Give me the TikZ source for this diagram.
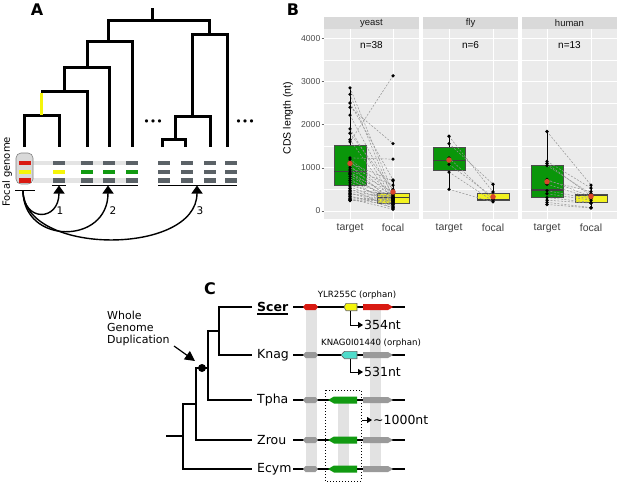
\documentclass[tikz,border=0pt]{standalone}
\usepackage{fontspec}
\setmainfont{DejaVu Sans}
\newfontfamily\ggfont{Liberation Sans}
\usetikzlibrary{arrows.meta}

\definecolor{geneA}{HTML}{5B6267}
\definecolor{greenA}{HTML}{119A11}
\definecolor{yellowA}{HTML}{F5F50A}
\definecolor{redA}{HTML}{D91A12}
\definecolor{rowA}{HTML}{E4E4E4}
\definecolor{panelB}{HTML}{EBEBEB}
\definecolor{stripB}{HTML}{D9D9D9}
\definecolor{greenB}{HTML}{0A960A}
\definecolor{yellowB}{HTML}{F2F220}
\definecolor{meanB}{HTML}{D8452A}
\definecolor{grayC}{HTML}{9A9A9A}
\definecolor{bandC}{HTML}{E2E2E2}
\definecolor{cyanC}{HTML}{4FDCCB}

\newcommand{\fs}[1]{\fontsize{#1}{#1}\selectfont}

\tikzset{
  treeA/.style={line width=3pt},
  arrA/.style={line width=1.4pt, -{Triangle[width=11pt,length=8pt]}},
  majorB/.style={white, line width=0.9pt},
  minorB/.style={white, line width=0.4pt},
  pairB/.style={gray!85, line width=0.5pt, dash pattern=on 2pt off 1.5pt},
  ptB/.style={circle, fill=black, inner sep=0pt, minimum size=3.6pt},
  meanpt/.style={circle, fill=meanB, inner sep=0pt, minimum size=5.5pt},
  tickB/.style={font=\ggfont\fs{8.6}, text=black!70, inner sep=1pt},
  treeC/.style={line width=2pt},
  chromC/.style={line width=1.3pt},
  elbowC/.style={line width=1pt, -{Triangle[width=6pt,length=5pt]}},
  spC/.style={font=\fs{12.5}, anchor=west, inner sep=0pt},
}

% box, whiskers and median of one boxplot
\newcommand{\bplot}[7]{%
  \draw[line width=0.8pt] (#1,#2) -- (#1,#6);
  \filldraw[fill=#7, draw=black!70, line width=0.6pt] ({#1-16},#3) rectangle ({#1+16},#5);
  \draw[line width=1.6pt, black!75] ({#1-16},#4) -- ({#1+16},#4);
}

\newcommand{\yeastpairs}{2850/420,2700/300,2500/720,2400/1560,2220/350,1900/280,1800/500,1650/250,1600/3130,1230/1200,1200/400,1150/320,1100/700,1050/200,1000/600,950/450,900/300,870/150,850/380,800/260,750/100,700/330,650/220,600/280,560/180,520/60,480/400,450/310,420/120,400/240,380/350,350/80,330/190,300/270,280/40,260/230,250/160,240/300}
\newcommand{\flypairs}{1730/440,1560/620,1230/260,1080/330,900/230,500/210}
\newcommand{\humanpairs}{1840/600,1150/530,1100/350,1050/400,730/330,700/450,620/300,470/280,400/250,310/200,250/180,200/80,150/70}

\begin{document}
\begin{tikzpicture}[x=1pt,y=-1pt]
\useasboundingbox (0,0) rectangle (617,482);

% ---------- A ----------
\node[font=\bfseries\fs{16}] (labA) at (37,10) {A};
\draw[treeA] (152,8) -- (152,20);
\draw[treeA] (108,41) -- (108,20) -- (209,20) -- (209,34);
\draw[treeA] (87,67) -- (87,41) -- (132,41) -- (132,147);
\draw[treeA] (64,91) -- (64,67) -- (109,67) -- (109,147);
\draw[treeA] (41,91) -- (87,91) -- (87,147);
\draw[treeA] (24,147) -- (24,115) -- (59,115) -- (59,147);
\draw[treeA, yellowA] (41,92.5) -- (41,115);
\draw[treeA] (192,116) -- (192,34) -- (227,34) -- (227,147);
\draw[treeA] (175,139) -- (175,116) -- (210,116) -- (210,147);
\draw[treeA] (162,147) -- (162,139) -- (185,139) -- (185,147);
\node[font=\fs{11}] (dotsL) at (153,123) {•••};
\node[font=\fs{11}] (dotsR) at (245,123) {•••};

\fill[rowA] (33,160.7) rectangle (138,165);
\fill[rowA] (33,178.3) rectangle (138,182.7);
\filldraw[fill=black!15, draw=black!50, line width=0.6pt, rounded corners=5pt] (16,153) rectangle (33,184);
\fill[redA] (18.5,160.7) rectangle (30.5,165);
\fill[yellowA] (18.5,170) rectangle (30.5,174.3);
\fill[redA] (18.5,178.3) rectangle (30.5,182.7);
\foreach \x/\c in {59/yellowA,87/greenA,109/greenA,132/greenA,164/geneA,187/geneA,210/geneA,231/geneA} {
  \fill[geneA] ({\x-6},160.7) rectangle ({\x+6},165);
  \fill[\c] ({\x-6},170) rectangle ({\x+6},174.3);
  \fill[geneA] ({\x-6},178.3) rectangle ({\x+6},182.7);
}
\draw[line width=1pt] (15,190) -- (35,190);
\draw[line width=1pt] (52,185) -- (66,185);
\draw[line width=1pt] (80,185) -- (138,185);
\draw[line width=1pt] (158,185) -- (237,185);
\node[font=\fs{10}, rotate=90] (focalLab) at (7,172) {Focal genome};

\coordinate (focal) at (23,190.5);
\coordinate (hit1) at (59,185.5);
\coordinate (hit2) at (108,185.5);
\coordinate (hit3) at (197,185.5);
\draw[arrA] (focal) .. controls (23,222) and (59,222) .. (hit1);
\draw[arrA] (focal) .. controls (23,245) and (108,245) .. (hit2);
\draw[arrA] (focal) .. controls (23,256) and (197,256) .. (hit3);
\node[font=\fs{10.5}] (n1) at (60,211) {1};
\node[font=\fs{10.5}] (n2) at (113,211) {2};
\node[font=\fs{10.5}] (n3) at (200,211) {3};

% ---------- B ----------
\node[font=\bfseries\fs{16}] (labB) at (293,10) {B};
\foreach \px/\name in {324/yeast,423/fly,522/human} {
  \fill[stripB] (\px,17) rectangle ({\px+95},29);
  \fill[panelB] (\px,29) rectangle ({\px+95},219);
  \node[font=\ggfont\fs{9.5}, text=black!90] at ({\px+47.5},23) {\name};
}
\node[font=\ggfont\fs{10.5}, rotate=90] (ylab) at (288,118) {CDS length (nt)};
\foreach \cx/\name in {350/target,393/focal,449/target,493/focal,547/target,591/focal}
  \node[font=\ggfont\fs{10.5}, text=black!75] at (\cx,228) {\name};

\begin{scope}[shift={(0,211)}, yscale=-0.0432]
  \foreach \px in {324,423,522} {
    \foreach \v in {500,1500,2500,3500} \draw[minorB] (\px,\v) -- ({\px+95},\v);
    \foreach \v in {0,1000,2000,3000,4000} \draw[majorB] (\px,\v) -- ({\px+95},\v);
  }
  \foreach \cx in {350,393,449,493,547,591} \draw[majorB] (\cx,-185) -- (\cx,4213);
  \foreach \v in {0,1000,2000,3000,4000} {
    \draw[black!60, line width=0.6pt] (321.5,\v) -- (324,\v);
    \node[tickB, anchor=east] at (321.5,\v) {\v};
  }
  \node[font=\ggfont\fs{10}] (nyeast) at (371.5,3850) {n=38};
  \node[font=\ggfont\fs{10}] (nfly) at (470.5,3850) {n=6};
  \node[font=\ggfont\fs{10}] (nhuman) at (569.5,3850) {n=13};

  \bplot{350}{240}{600}{910}{1530}{2850}{greenB}
  \bplot{393}{40}{180}{310}{410}{720}{yellowB}
  \bplot{449}{500}{950}{1170}{1480}{1730}{greenB}
  \bplot{493}{210}{250}{265}{400}{620}{yellowB}
  \bplot{547}{150}{310}{490}{1050}{1840}{greenB}
  \bplot{591}{70}{200}{355}{380}{600}{yellowB}

  \foreach \t/\f in \yeastpairs \draw[pairB] (350,\t) -- (393,\f);
  \foreach \t/\f in \flypairs \draw[pairB] (449,\t) -- (493,\f);
  \foreach \t/\f in \humanpairs \draw[pairB] (547,\t) -- (591,\f);
  \foreach \t/\f in \yeastpairs {\node[ptB] at (350,\t) {}; \node[ptB] at (393,\f) {};}
  \foreach \t/\f in \flypairs {\node[ptB] at (449,\t) {}; \node[ptB] at (493,\f) {};}
  \foreach \t/\f in \humanpairs {\node[ptB] at (547,\t) {}; \node[ptB] at (591,\f) {};}

  \foreach \cx/\m in {350/1100,393/440,449/1180,493/330,547/680,591/340}
    \node[meanpt] at (\cx,\m) {};
\end{scope}

% ---------- C ----------
\node[font=\bfseries\fs{16}] (labC) at (210,289) {C};
\draw[treeC] (252,307) -- (219,307) -- (219,355) -- (252,355);
\draw[treeC] (219,331) -- (208,331) -- (208,400) -- (252,400);
\draw[treeC] (208,368) -- (196,368) -- (196,440) -- (252,440);
\draw[treeC] (196,404) -- (183,404) -- (183,469) -- (252,469);
\draw[treeC] (183,436) -- (166,436);
\fill (202,368) circle (4);

\node[font=\fs{11}, align=left, anchor=west, inner sep=0pt] (wgd) at (107,328)
  {Whole\\[1pt]Genome\\[1pt]Duplication};
\coordinate (wgdtip) at (195,361);
\draw[line width=1.2pt, -{Triangle[width=10pt,length=10pt]}] (174,346) -- (wgdtip);

\node[spC, font=\bfseries\fs{12.5}] (scer) at (257,307) {Scer};
\draw[line width=1.6pt] ([yshift=-2.2pt]scer.base west) -- ([yshift=-2.2pt]scer.base east);
\node[spC] (knag) at (257,355) {Knag};
\node[spC] (tpha) at (257,400) {Tpha};
\node[spC] (zrou) at (257,440) {Zrou};
\node[spC] (ecym) at (257,469) {Ecym};

\fill[bandC] (306,307) rectangle (317,469);
\fill[bandC] (370,307) rectangle (381,469);
\fill[bandC] (338,400) rectangle (349,469);

\foreach \y/\c in {307/redA,355/grayC,400/grayC,440/grayC,469/grayC} {
  \draw[chromC] (293,\y) -- (405,\y);
  \fill[\c] (303,\y) -- (305.5,{\y-3}) -- (315.5,{\y-3}) -- (318,\y) -- (315.5,{\y+3}) -- (305.5,{\y+3}) -- cycle;
  \fill[\c] (363,{\y-3}) -- (388,{\y-3}) -- (393,\y) -- (388,{\y+3}) -- (363,{\y+3}) -- cycle;
}
\foreach \y in {400,440,469}
  \fill[greenA] (328,\y) -- (334,{\y-3.5}) -- (357,{\y-3.5}) -- (357,{\y+3.5}) -- (334,{\y+3.5}) -- cycle;
\filldraw[fill=yellowA, draw=black!60, line width=0.6pt] (344,307) -- (346,303.3) -- (357,303.3) -- (357,310.7) -- (346,310.7) -- cycle;
\filldraw[fill=cyanC, draw=black!60, line width=0.6pt] (341,355) -- (344.5,351.3) -- (357,351.3) -- (357,358.7) -- (344.5,358.7) -- cycle;

\node[font=\fs{8.6}] (ylr) at (357,295) {YLR255C (orphan)};
\node[font=\fs{8.6}] (knagorf) at (371,343) {KNAG0I01440 (orphan)};
\coordinate (len1) at (363,325);
\coordinate (len2) at (363,372);
\draw[elbowC] (350,311) |- (len1);
\draw[elbowC] (350,359) |- (len2);
\node[font=\fs{12.5}, anchor=west, inner sep=1pt] (l354) at (len1) {354nt};
\node[font=\fs{12.5}, anchor=west, inner sep=1pt] (l531) at (len2) {531nt};

\draw[dotted, line width=1pt] (325,390) rectangle (361,481);
\coordinate (len3) at (372,420);
\draw[elbowC] (362,420) -- (len3);
\node[font=\fs{12.5}, anchor=west, inner sep=1pt] (l1000) at (len3) {\textasciitilde1000nt};
\end{tikzpicture}
\end{document}
